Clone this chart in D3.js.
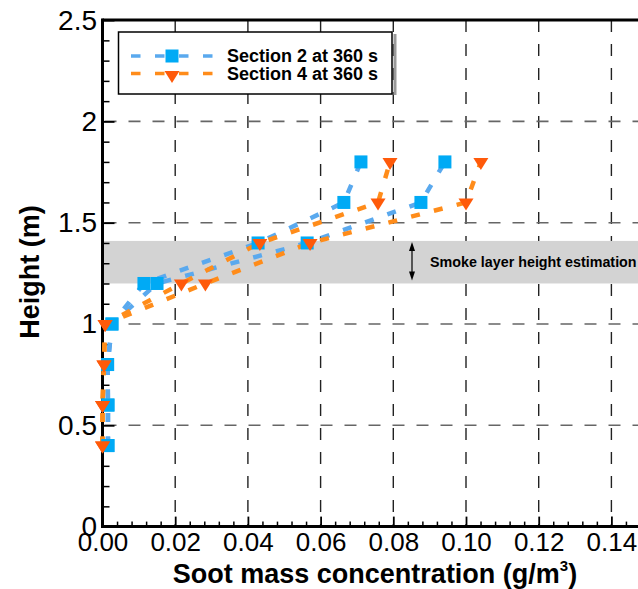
<!DOCTYPE html>
<html>
<head>
<meta charset="utf-8">
<script src="https://cdn.jsdelivr.net/npm/d3@7/dist/d3.min.js"></script>
<style>
  html, body { margin: 0; padding: 0; background: #fff; }
  svg { display: block; }
  text { font-family: "Liberation Sans", Arial, Helvetica, sans-serif; }
</style>
</head>
<body>
<svg id="chart" width="638" height="589"></svg>
<script>
// ---------------- data ----------------
const heights = [0.4, 0.6, 0.8, 1.0, 1.2, 1.4, 1.6, 1.8];
// Section 2 at 360 s (two vertical profiles)
const sec2ProfileA = [0.0015, 0.0015, 0.0014, 0.0026, 0.0114, 0.0428, 0.0664, 0.0711];
const sec2ProfileB = [0.0015, 0.0015, 0.0014, 0.0026, 0.0150, 0.0563, 0.0876, 0.0942];
// Section 4 at 360 s (two vertical profiles)
const sec4ProfileA = [0.0000, 0.0000, 0.0004, 0.0007, 0.0217, 0.0433, 0.0758, 0.0791];
const sec4ProfileB = [0.0000, 0.0000, 0.0004, 0.0007, 0.0283, 0.0571, 0.1000, 0.1041];
const seriesNames = ["Section 2 at 360 s", "Section 4 at 360 s"];

const xTicks = [0, 0.02, 0.04, 0.06, 0.08, 0.10, 0.12, 0.14];
const xTickLabels = ["0.00", "0.02", "0.04", "0.06", "0.08", "0.10", "0.12", "0.14"];
const yTicks = [0, 0.5, 1, 1.5, 2, 2.5];
const yTickLabels = ["0", "0.5", "1", "1.5", "2", "2.5"];
const smokeBand = [1.2, 1.41];
const smokeLabel = "Smoke layer height estimation";
const xTitle = "Soot mass concentration (g/m";
const yTitle = "Height (m)";

// ---------------- layout ----------------
const svg = d3.select("#chart");
const W = 638, H = 589;
const x = d3.scaleLinear().domain([0, 0.16]).range([102.5, 102.5 + 0.16 * 3635]);
const y = d3.scaleLinear().domain([0, 2.5]).range([526.6, 20.1]);

const blueLine = "#5aa9ee", blueMark = "#00aaf5";
const orangeLine = "#ff8c1a", orangeMark = "#ff5a0a";

// grid
const grid = svg.append("g");
grid.selectAll("line.v").data(xTicks.filter(d => d > 0)).join("line")
  .attr("x1", d => x(d)).attr("x2", d => x(d))
  .attr("y1", y(2.5)).attr("y2", y(0))
  .attr("stroke", "#222").attr("stroke-width", 1.4).attr("stroke-dasharray", "12,12");
grid.selectAll("line.h").data(yTicks.filter(d => d > 0 && d < 2.5)).join("line")
  .attr("x1", x(0)).attr("x2", W)
  .attr("y1", d => y(d)).attr("y2", d => y(d))
  .attr("stroke", "#666").attr("stroke-width", 1.6).attr("stroke-dasharray", "12,12")
  .attr("stroke-dashoffset", -2);

// smoke band
svg.append("rect")
  .attr("x", x(0) + 1.5).attr("width", W - x(0))
  .attr("y", y(smokeBand[1])).attr("height", y(smokeBand[0]) - y(smokeBand[1]))
  .attr("fill", "#d3d3d3");

// double arrow + label
const ax = 412;
const arr = svg.append("g");
arr.append("line").attr("x1", ax).attr("x2", ax)
  .attr("y1", y(1.405) + 4).attr("y2", y(1.215) - 4)
  .attr("stroke", "#000").attr("stroke-width", 1.2);
arr.append("path").attr("d", `M${ax},${y(1.405)} l-3,9 l6,0 z`).attr("fill", "#000");
arr.append("path").attr("d", `M${ax},${y(1.215)} l-3,-9 l6,0 z`).attr("fill", "#000");
svg.append("text").attr("x", 430).attr("y", 267)
  .attr("font-size", 14.3).attr("font-weight", "bold").attr("fill", "#000")
  .text(smokeLabel);

// axes
const xAxis = d3.axisBottom(x).tickValues(xTicks)
  .tickFormat((d, i) => xTickLabels[i]).tickSizeInner(-10).tickSizeOuter(0).tickPadding(6);
const gx = svg.append("g").attr("transform", `translate(0,${y(0)})`).call(xAxis);
gx.selectAll("text").attr("font-size", 26).attr("fill", "#000").attr("font-family", "Liberation Sans, Arial, sans-serif");
gx.selectAll(".tick line").attr("stroke", "#000").attr("stroke-width", 1.8);
gx.select(".domain").remove();

const xMinor = d3.axisBottom(x)
  .tickValues(d3.range(0, 0.161, 0.004).filter(v => Math.abs(v / 0.02 - Math.round(v / 0.02)) > 1e-6))
  .tickFormat("").tickSizeInner(-5).tickSizeOuter(0);
const gxm = svg.append("g").attr("transform", `translate(0,${y(0)})`).call(xMinor);
gxm.selectAll(".tick line").attr("stroke", "#000").attr("stroke-width", 1.5);
gxm.select(".domain").remove();

const yAxis = d3.axisLeft(y).tickValues(yTicks)
  .tickFormat((d, i) => yTickLabels[i]).tickSizeInner(-12).tickSizeOuter(0).tickPadding(5.5);
const gy = svg.append("g").attr("transform", `translate(${x(0)},0)`).call(yAxis);
gy.selectAll("text").attr("font-size", 28).attr("fill", "#000").attr("font-family", "Liberation Sans, Arial, sans-serif");
gy.selectAll(".tick line").attr("stroke", "#000").attr("stroke-width", 1.8);
gy.select(".domain").remove();

const yMinor = d3.axisLeft(y)
  .tickValues(d3.range(0, 2.51, 0.1).filter(v => Math.abs(v / 0.5 - Math.round(v / 0.5)) > 1e-6))
  .tickFormat("").tickSizeInner(-7).tickSizeOuter(0);
const gym = svg.append("g").attr("transform", `translate(${x(0)},0)`).call(yMinor);
gym.selectAll(".tick line").attr("stroke", "#000").attr("stroke-width", 1.5);
gym.select(".domain").remove();

// frame lines
svg.append("line").attr("x1", x(0)).attr("x2", W).attr("y1", y(0)).attr("y2", y(0))
  .attr("stroke", "#000").attr("stroke-width", 3);
svg.append("line").attr("x1", x(0)).attr("x2", W).attr("y1", y(2.5)).attr("y2", y(2.5))
  .attr("stroke", "#000").attr("stroke-width", 3);
svg.append("line").attr("x1", x(0)).attr("x2", x(0)).attr("y1", y(2.5) - 1.5).attr("y2", y(0) + 1.5)
  .attr("stroke", "#000").attr("stroke-width", 3);

// data lines
const line = d3.line().x(d => x(d[0])).y(d => y(d[1]));
const profile = vals => vals.map((v, i) => [v, heights[i]]);
const plot = svg.append("g");
[[sec2ProfileA, blueLine], [sec2ProfileB, blueLine], [sec4ProfileA, orangeLine], [sec4ProfileB, orangeLine]]
  .forEach(([vals, col]) => {
    plot.append("path").datum(profile(vals)).attr("d", line)
      .attr("fill", "none").attr("stroke", col).attr("stroke-width", 4.5)
      .attr("stroke-dasharray", "9,14.5");
  });

// markers
const sq = 13;
const triPath = (cx, cy) => `M${cx - 7.5},${cy - 4} L${cx + 7.5},${cy - 4} L${cx},${cy + 8} Z`;
[sec2ProfileA, sec2ProfileB].forEach(vals => {
  plot.append("g").selectAll("rect").data(profile(vals)).join("rect")
    .attr("x", d => x(d[0]) - sq / 2).attr("y", d => y(d[1]) - sq / 2)
    .attr("width", sq).attr("height", sq).attr("fill", blueMark);
});
[sec4ProfileA, sec4ProfileB].forEach(vals => {
  plot.append("g").selectAll("path").data(profile(vals)).join("path")
    .attr("d", d => triPath(x(d[0]), y(d[1]))).attr("fill", orangeMark);
});

// legend
const lg = svg.append("g");
lg.append("line").attr("x1", 395).attr("x2", 395).attr("y1", 34).attr("y2", 95)
  .attr("stroke", "#9a9a9a").attr("stroke-width", 3);
lg.append("rect").attr("x", 118.5).attr("y", 32).attr("width", 273.5).attr("height", 62)
  .attr("fill", "#fff").attr("stroke", "#000").attr("stroke-width", 1.5);
const rows = [{ name: seriesNames[0], ly: 56, col: blueLine, mark: "sq" },
              { name: seriesNames[1], ly: 73.5, col: orangeLine, mark: "tri" }];
rows.forEach(r => {
  lg.append("line").attr("x1", 131).attr("x2", 213).attr("y1", r.ly).attr("y2", r.ly)
    .attr("stroke", r.col).attr("stroke-width", 3.5).attr("stroke-dasharray", "9.5,14.5");
  if (r.mark === "sq") {
    lg.append("rect").attr("x", 172 - sq / 2).attr("y", r.ly - sq / 2).attr("width", sq).attr("height", sq).attr("fill", blueMark);
  } else {
    lg.append("path").attr("d", triPath(172, r.ly + 1.5)).attr("fill", orangeMark);
  }
  lg.append("text").attr("x", 227).attr("y", r.ly + 6.3)
    .attr("font-size", 18).attr("font-weight", "bold").attr("fill", "#000").text(r.name);
});

// axis titles
const xt = svg.append("text").attr("x", 375).attr("y", 583).attr("text-anchor", "middle")
  .attr("font-size", 27).attr("font-weight", "bold").attr("fill", "#000");
xt.append("tspan").text(xTitle);
xt.append("tspan").attr("font-size", 15).attr("dy", -12).text("3");
xt.append("tspan").attr("dy", 12).text(")");

svg.append("text").attr("transform", "translate(39,272) rotate(-90)").attr("text-anchor", "middle")
  .attr("font-size", 27).attr("font-weight", "bold").attr("fill", "#000").text(yTitle);
</script>
</body>
</html>
